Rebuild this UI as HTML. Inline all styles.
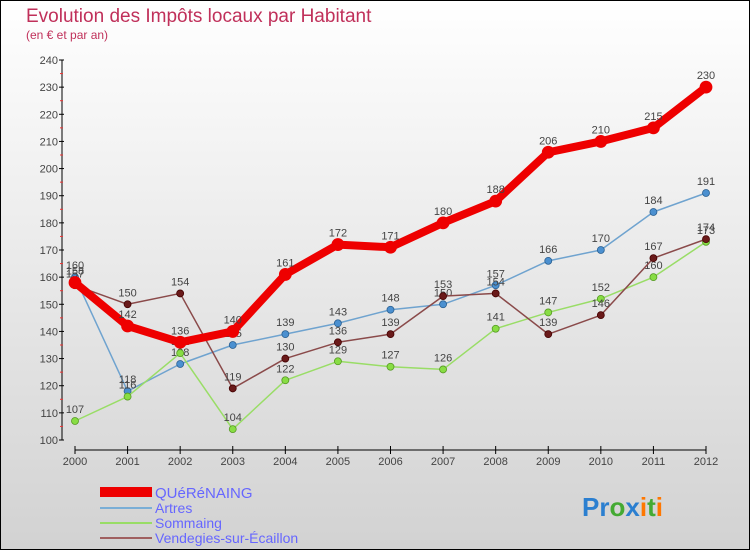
<!DOCTYPE html>
<html><head><meta charset="utf-8"><style>
body{margin:0}
#wrap{width:750px;height:550px;position:relative;overflow:hidden}
svg{display:block;font-family:"Liberation Sans",sans-serif}
</style></head><body><div id="wrap">
<svg id="chart" width="750" height="550">
<defs><linearGradient id="bg" x1="0" y1="0" x2="0" y2="1"><stop offset="0" stop-color="#ffffff"/><stop offset="1" stop-color="#d2d2d2"/></linearGradient></defs>
<rect x="0.5" y="0.5" width="749" height="549" fill="url(#bg)" stroke="#000"/>
<text x="26" y="22" font-size="19" fill="#c0305a">Evolution des Impôts locaux par Habitant</text>
<text x="26" y="39" font-size="12" fill="#c0305a">(en € et par an)</text>
<g id="axes"></g><g id="series"></g>
<g>
<rect x="100" y="487" width="52" height="10" fill="#e00"/>
<text x="155" y="498" font-size="15" fill="#6666ff">QUéRéNAING</text>
<line x1="100" y1="508" x2="152" y2="508" stroke="#7aaed6" stroke-width="2"/>
<text x="155" y="513" font-size="14" fill="#6666ff">Artres</text>
<line x1="100" y1="523" x2="152" y2="523" stroke="#99dd66" stroke-width="2"/>
<text x="155" y="528" font-size="14" fill="#6666ff">Sommaing</text>
<line x1="100" y1="538" x2="152" y2="538" stroke="#a06060" stroke-width="2"/>
<text x="155" y="543" font-size="14" fill="#6666ff">Vendegies-sur-Écaillon</text>
</g>
<text x="582" y="516" font-size="26" font-weight="bold"><tspan fill="#2b7fd0">Pr</tspan><tspan fill="#44aa33">o</tspan><tspan fill="#2b7fd0">x</tspan><tspan fill="#ff7700">i</tspan><tspan fill="#44aa33">t</tspan><tspan fill="#ff7700">i</tspan></text>
</svg></div>
<script>
const years=[2000,2001,2002,2003,2004,2005,2006,2007,2008,2009,2010,2011,2012];
const yTicks=[100,110,120,130,140,150,160,170,180,190,200,210,220,230,240];
const querenaing=[158,142,136,140,161,172,171,180,188,206,210,215,230];
const artres=[160,118,128,135,139,143,148,150,157,166,170,184,191];
const sommaing=[107,116,132,104,122,129,127,126,141,147,152,160,173];
const vendegies=[157,150,154,119,130,136,139,153,154,139,146,167,174];
const NS="http://www.w3.org/2000/svg";
function X(i){return 75+i*(706-75)/(years.length-1);}
function Y(v){return 440-(v-100)*(380/140);}
function mk(p,t,a){const e=document.createElementNS(NS,t);for(const k in a)e.setAttribute(k,a[k]);p.appendChild(e);return e;}
const ax=document.getElementById('axes');
let yl=mk(ax,'line',{x1:62,y1:60,x2:62,y2:440,stroke:'#000','stroke-width':1});


yTicks.forEach(v=>{
 mk(ax,'line',{x1:59,y1:Y(v),x2:64,y2:Y(v),stroke:'#000'});
 if(v<240)mk(ax,'line',{x1:60,y1:Y(v+5),x2:63,y2:Y(v+5),stroke:'#e33'});
 const t=mk(ax,'text',{x:58,y:Y(v)+4,'font-size':11,'text-anchor':'end',fill:'#444'});
 t.textContent=v;
 
 
});
let xl=mk(ax,'line',{x1:75,y1:450,x2:706,y2:450,stroke:'#000'});


years.forEach((y,i)=>{
 mk(ax,'line',{x1:X(i),y1:446,x2:X(i),y2:454,stroke:'#000'});
 const t=mk(ax,'text',{x:X(i),y:465,'font-size':11,'text-anchor':'middle',fill:'#444'});
 t.textContent=y;
 
 
});
const sg=document.getElementById('series');
function draw(data,name,color,w,r,dot,stroke){
 const g=mk(sg,'g',{});
 
 
 const pl=mk(g,'polyline',{points:data.map((v,i)=>X(i)+','+Y(v)).join(' '),fill:'none',stroke:color,'stroke-width':w,'stroke-linejoin':'round'});
 
 
 data.forEach((v,i)=>{
  const c=mk(g,'circle',{cx:X(i),cy:Y(v),r:r,fill:dot,stroke:stroke,'stroke-width':0.8});
  
  
  const t=mk(g,'text',{x:X(i),y:Y(v)-8,'font-size':11,'text-anchor':'middle',fill:'#444'});
  t.textContent=v;
  
  
 });
}
draw(artres,'artres','#6fa3cf',1.5,3.5,'#4b90d0','#2a5f90');
draw(sommaing,'sommaing','#99dd66',1.5,3.5,'#88dd44','#559922');
draw(vendegies,'vendegies','#8a4a4a',1.5,3.5,'#6a1a1a','#400');
draw(querenaing,'querenaing','#ee0000',8,6,'#ee0000','#e00');
</script></body></html>
